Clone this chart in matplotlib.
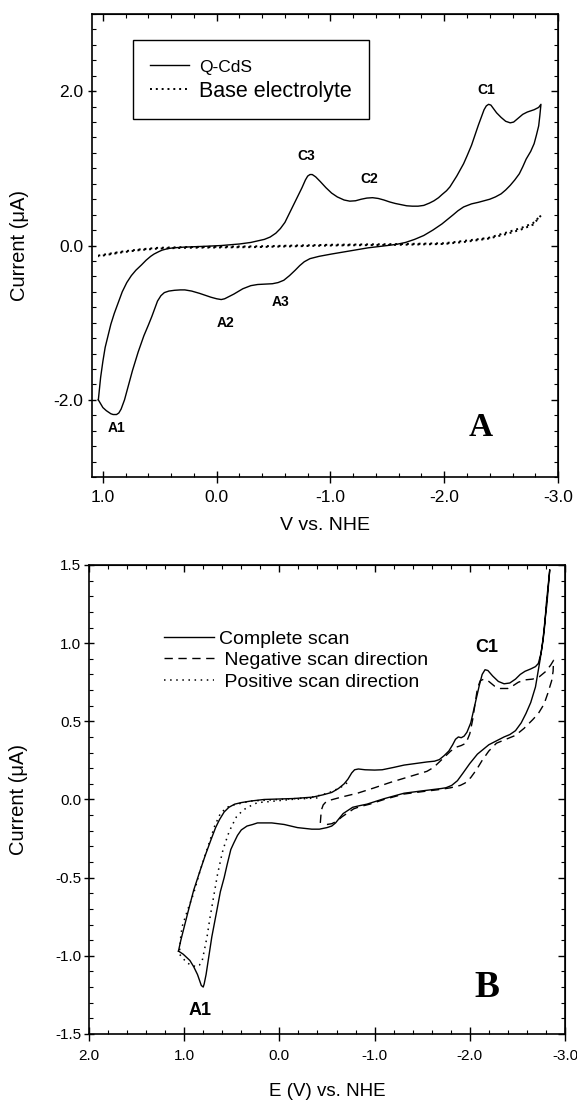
import matplotlib
matplotlib.use("Agg")
import matplotlib.pyplot as plt
from matplotlib.ticker import MultipleLocator, FormatStrFormatter

plt.rcParams['font.family'] = ['Liberation Sans', 'DejaVu Sans']

# --- panel A : Q-CdS cyclic voltammogram vs base electrolyte ---
# sweep towards negative potentials (C peaks)
qcds_fwd_v = [1.04, 1.03, 1.02, 1.00, 0.98, 0.955, 0.93, 0.90, 0.86, 0.83, 0.79, 0.75, 0.71,
              0.66, 0.62, 0.58, 0.55, 0.51, 0.48, 0.43, 0.38, 0.28, 0.10, -0.04, -0.20, -0.30,
              -0.36, -0.42, -0.47, -0.52, -0.56, -0.60, -0.65, -0.70, -0.75, -0.78, -0.80,
              -0.82, -0.84, -0.87, -0.91, -0.96, -1.01, -1.06, -1.12, -1.17, -1.22, -1.27,
              -1.32, -1.37, -1.42, -1.47, -1.52, -1.57, -1.62, -1.67, -1.72, -1.77, -1.82,
              -1.87, -1.91, -1.95, -1.98, -2.02, -2.05, -2.08, -2.11, -2.14, -2.17, -2.20,
              -2.24, -2.27, -2.30, -2.33, -2.35, -2.37, -2.39, -2.41, -2.43, -2.46, -2.50,
              -2.54, -2.58, -2.61, -2.65, -2.69, -2.73, -2.79, -2.83, -2.85]
qcds_fwd_i = [-2.00, -1.85, -1.71, -1.50, -1.32, -1.17, -1.02, -0.88, -0.72, -0.60, -0.48, -0.39, -0.32,
              -0.25, -0.19, -0.14, -0.11, -0.08, -0.06, -0.04, -0.03, -0.02, -0.01, 0.00, 0.02, 0.04,
              0.06, 0.08, 0.11, 0.16, 0.22, 0.30, 0.45, 0.60, 0.75, 0.85, 0.90,
              0.92, 0.92, 0.89, 0.83, 0.75, 0.68, 0.63, 0.59, 0.575, 0.58, 0.60,
              0.615, 0.62, 0.61, 0.59, 0.565, 0.545, 0.53, 0.515, 0.51, 0.51, 0.52,
              0.55, 0.58, 0.62, 0.66, 0.71, 0.76, 0.83, 0.90, 0.98, 1.06, 1.16,
              1.30, 1.43, 1.56, 1.68, 1.76, 1.81, 1.83, 1.82, 1.78, 1.72, 1.66,
              1.61, 1.59, 1.60, 1.65, 1.70, 1.73, 1.76, 1.79, 1.83]
# sweep back towards positive potentials (A peaks)
qcds_rev_v = [-2.85, -2.84, -2.83, -2.81, -2.79, -2.76, -2.72, -2.69, -2.66, -2.62, -2.58, -2.54,
              -2.50, -2.45, -2.40, -2.35, -2.30, -2.24, -2.17, -2.12, -2.08, -2.03, -1.98, -1.90,
              -1.82, -1.74, -1.66, -1.58, -1.50, -1.33, -1.17, -1.01, -0.90, -0.82, -0.77, -0.73,
              -0.69, -0.64, -0.59, -0.54, -0.49, -0.42, -0.36, -0.30, -0.23, -0.15, -0.07, -0.04,
              0.00, 0.05, 0.09, 0.15, 0.22, 0.28, 0.32, 0.37, 0.42, 0.46, 0.49, 0.52, 0.54, 0.57,
              0.60, 0.64, 0.69, 0.74, 0.78, 0.81, 0.84, 0.86, 0.88, 0.91, 0.93, 0.97, 1.00, 1.02, 1.04]
qcds_rev_i = [1.83, 1.68, 1.55, 1.43, 1.32, 1.22, 1.12, 1.02, 0.93, 0.85, 0.78, 0.72,
              0.67, 0.63, 0.60, 0.58, 0.56, 0.54, 0.50, 0.45, 0.40, 0.34, 0.28, 0.20,
              0.13, 0.08, 0.04, 0.015, 0.00, -0.03, -0.07, -0.11, -0.14, -0.17, -0.21, -0.26,
              -0.32, -0.39, -0.45, -0.48, -0.495, -0.50, -0.505, -0.52, -0.56, -0.63, -0.69, -0.70,
              -0.69, -0.67, -0.65, -0.62, -0.59, -0.575, -0.575, -0.58, -0.59, -0.61, -0.65, -0.72, -0.80, -0.92,
              -1.03, -1.17, -1.38, -1.62, -1.84, -2.00, -2.12, -2.17, -2.19, -2.19, -2.18, -2.14, -2.10, -2.05, -2.00]

base_fwd_v = [1.04, 0.84, 0.68, 0.52, 0.29, -0.36, -1.00, -1.64, -2.00, -2.20, -2.39, -2.55, -2.68, -2.78, -2.85]
base_fwd_i = [-0.13, -0.08, -0.05, -0.03, -0.02, -0.01, 0.01, 0.02, 0.03, 0.065, 0.10, 0.17, 0.23, 0.29, 0.39]
base_rev_v = [-2.85, -2.78, -2.68, -2.55, -2.39, -2.20, -2.00, -1.64, -1.00, -0.36, 0.29, 0.52, 0.68, 0.84, 1.04]
base_rev_i = [0.39, 0.27, 0.21, 0.15, 0.09, 0.05, 0.02, 0.01, 0.00, -0.02, -0.03, -0.04, -0.06, -0.09, -0.14]

peaks_a = ["C1", "C3", "C2", "A3", "A2", "A1"]
peaks_a_v = [-2.37, -0.79, -1.34, -0.56, -0.08, 0.88]
peaks_a_i = [2.01, 1.16, 0.86, -0.73, -1.00, -2.36]

# --- panel B : complete scan and partial scans ---
full_fwd_v = [1.06, 1.035, 1.01, 0.96, 0.90, 0.83, 0.78, 0.72, 0.67, 0.63, 0.58, 0.53, 0.47,
              0.40, 0.30, 0.16, -0.15, -0.35, -0.46, -0.55, -0.62, -0.68, -0.72, -0.76,
              -0.79, -0.83, -0.90, -1.00, -1.08, -1.20, -1.31, -1.43, -1.55, -1.63, -1.68,
              -1.73, -1.78, -1.82, -1.85, -1.88, -1.91, -1.94, -1.97, -2.01, -2.04, -2.07,
              -2.10, -2.13, -2.16, -2.19, -2.24, -2.30, -2.36, -2.42, -2.48, -2.53, -2.58,
              -2.64, -2.69, -2.72, -2.75, -2.77, -2.79, -2.80, -2.82, -2.84]
full_fwd_i = [-0.97, -0.90, -0.84, -0.72, -0.58, -0.45, -0.36, -0.26, -0.18, -0.13, -0.08, -0.05, -0.03,
              -0.02, -0.01, 0.00, 0.006, 0.015, 0.03, 0.045, 0.07, 0.10, 0.13, 0.17,
              0.19, 0.195, 0.19, 0.188, 0.19, 0.205, 0.22, 0.23, 0.24, 0.245, 0.255,
              0.28, 0.31, 0.35, 0.385, 0.40, 0.395, 0.405, 0.43, 0.49, 0.57, 0.65,
              0.73, 0.80, 0.83, 0.825, 0.79, 0.755, 0.74, 0.745, 0.77, 0.80, 0.82,
              0.835, 0.85, 0.87, 0.94, 1.02, 1.13, 1.23, 1.35, 1.47]
full_rev_v = [-2.84, -2.81, -2.79, -2.77, -2.74, -2.69, -2.64, -2.59, -2.54, -2.48, -2.42, -2.36,
              -2.28, -2.20, -2.14, -2.08, -2.00, -1.93, -1.87, -1.81, -1.75, -1.70, -1.50, -1.31,
              -1.10, -0.92, -0.84, -0.77, -0.72, -0.67, -0.63, -0.59, -0.55, -0.50, -0.42, -0.34,
              -0.19, -0.05, 0.08, 0.17, 0.23, 0.28, 0.34, 0.40, 0.44, 0.48, 0.51, 0.55, 0.58,
              0.62, 0.66, 0.71, 0.74, 0.77, 0.79, 0.80, 0.82, 0.86, 0.90, 0.94, 1.01, 1.06]
full_rev_i = [1.47, 1.25, 1.15, 1.03, 0.90, 0.72, 0.62, 0.55, 0.49, 0.44, 0.415, 0.40,
              0.375, 0.35, 0.32, 0.29, 0.23, 0.17, 0.12, 0.09, 0.075, 0.07, 0.055, 0.04,
              0.005, -0.03, -0.04, -0.05, -0.07, -0.09, -0.12, -0.15, -0.17, -0.18, -0.19, -0.19,
              -0.18, -0.16, -0.15, -0.15, -0.15, -0.16, -0.17, -0.195, -0.23, -0.28, -0.32, -0.42, -0.50,
              -0.59, -0.72, -0.88, -1.00, -1.12, -1.18, -1.20, -1.19, -1.12, -1.07, -1.03, -0.99, -0.97]

neg_v = [-0.43, -0.435, -0.44, -0.46, -0.49, -0.53, -0.65, -0.82, -1.00, -1.17, -1.36, -1.55,
         -1.62, -1.68, -1.74, -1.80, -1.86, -1.91, -1.96, -2.00, -2.03, -2.06, -2.08, -2.11,
         -2.15, -2.20, -2.26, -2.32, -2.40, -2.46, -2.51, -2.58, -2.66, -2.73, -2.80, -2.85,
         -2.88, -2.875, -2.86, -2.82, -2.78, -2.72, -2.66, -2.57, -2.48, -2.38, -2.28, -2.20,
         -2.13, -2.07, -2.01, -1.95, -1.90, -1.80, -1.70, -1.50, -1.31, -1.10, -0.95, -0.85,
         -0.78, -0.72, -0.66, -0.60, -0.55, -0.50, -0.45]
neg_i = [-0.15, -0.11, -0.07, -0.035, -0.015, -0.005, 0.015, 0.04, 0.075, 0.11, 0.145, 0.18,
         0.205, 0.24, 0.275, 0.31, 0.335, 0.345, 0.36, 0.42, 0.51, 0.63, 0.71, 0.76,
         0.77, 0.755, 0.725, 0.71, 0.71, 0.73, 0.75, 0.765, 0.77, 0.785, 0.82, 0.86,
         0.89, 0.82, 0.76, 0.68, 0.61, 0.55, 0.51, 0.455, 0.41, 0.385, 0.36, 0.31,
         0.25, 0.19, 0.14, 0.105, 0.09, 0.075, 0.065, 0.05, 0.035, 0.00, -0.03, -0.045,
         -0.06, -0.085, -0.11, -0.14, -0.155, -0.16, -0.16]

pos_v = [-0.40, -0.12, 0.13, 0.23, 0.30, 0.36, 0.40, 0.45, 0.50, 0.53, 0.57, 0.60, 0.65,
         0.69, 0.73, 0.76, 0.79, 0.81, 0.84, 0.87, 0.93, 0.98, 1.02, 1.05, 1.045, 1.035,
         1.02, 0.96, 0.90, 0.83, 0.76, 0.68, 0.62, 0.55, 0.48, 0.30, 0.00, -0.30, -0.45,
         -0.55, -0.65, -0.72]
pos_i = [0.01, 0.00, -0.015, -0.02, -0.04, -0.06, -0.08, -0.11, -0.17, -0.21, -0.28, -0.34, -0.48,
         -0.62, -0.76, -0.88, -0.97, -1.03, -1.06, -1.07, -1.06, -1.04, -1.01, -0.99, -0.94, -0.87,
         -0.81, -0.70, -0.60, -0.45, -0.32, -0.17, -0.09, -0.05, -0.035, -0.01, 0.00, 0.01, 0.03,
         0.05, 0.08, 0.11]

peaks_b = ["C1", "A1"]
peaks_b_v = [-2.18, 0.83]
peaks_b_i = [0.97, -1.35]

fig = plt.figure(figsize=(5.77, 11.05), dpi=100)
axA = fig.add_axes([0.1586, 0.5683, 0.8085, 0.419])
axB = fig.add_axes([0.1542, 0.0643, 0.825, 0.4244])


def style_axes(ax, xmaj, xmin, ymaj, ymin, xlen, ylen, xpad, ypad, fs):
    ax.xaxis.set_major_locator(MultipleLocator(xmaj))
    ax.xaxis.set_minor_locator(MultipleLocator(xmin))
    ax.yaxis.set_major_locator(MultipleLocator(ymaj))
    ax.yaxis.set_minor_locator(MultipleLocator(ymin))
    ax.xaxis.set_major_formatter(FormatStrFormatter('%.1f'))
    ax.yaxis.set_major_formatter(FormatStrFormatter('%.1f'))
    ax.tick_params(axis='x', which='major', direction='inout', length=xlen, width=1.0,
                   pad=xpad, labelsize=fs)
    ax.tick_params(axis='y', which='major', direction='inout', length=ylen, width=1.0,
                   pad=ypad, labelsize=fs)
    ax.tick_params(which='minor', direction='in', length=3, width=0.8)
    for sp in ax.spines.values():
        sp.set_linewidth(1.2)
    # ticks on top and right, pointing in
    top = ax.secondary_xaxis('top')
    top.xaxis.set_major_locator(MultipleLocator(xmaj))
    top.xaxis.set_minor_locator(MultipleLocator(xmin))
    top.tick_params(which='major', direction='in', length=5, width=1.0, labeltop=False)
    top.tick_params(which='minor', direction='in', length=3, width=0.8)
    right = ax.secondary_yaxis('right')
    right.yaxis.set_major_locator(MultipleLocator(ymaj))
    right.yaxis.set_minor_locator(MultipleLocator(ymin))
    right.tick_params(which='major', direction='in', length=5, width=1.0, labelright=False)
    right.tick_params(which='minor', direction='in', length=3, width=0.8)


# panel A
axA.plot(qcds_fwd_v + qcds_rev_v[1:], qcds_fwd_i + qcds_rev_i[1:], color='black', lw=1.0,
         label='Q-CdS')
axA.plot(base_fwd_v + base_rev_v[1:], base_fwd_i + base_rev_i[1:], color='black', lw=1.4,
         ls=(0, (1, 2)), label='Base electrolyte')
axA.set_xlim(1.1, -3.0)
axA.set_ylim(-3.0, 3.0)
style_axes(axA, 1.0, 0.2, 2.0, 0.2, 8.5, 6, 5, 3, 12.5)
for name, v, i in zip(peaks_a, peaks_a_v, peaks_a_i):
    axA.text(v, i, name, fontsize=10, fontweight='bold', ha='center', va='center')
axA.text(-2.32, -2.36, 'A', family='Liberation Serif', fontsize=24, fontweight='bold',
         ha='center', va='center')
axA.set_xlabel('V vs. NHE', fontsize=14)
axA.set_ylabel('Current (\u03bcA)', fontsize=14.5)
axA.xaxis.set_label_coords(0.5, -0.086)
axA.yaxis.set_label_coords(-0.135, 0.5)
legA = axA.legend(loc='upper left', bbox_to_anchor=(0.089, 0.944), fontsize=15.5,
                  frameon=True, fancybox=False, framealpha=1, edgecolor='black',
                  borderpad=0.8, handlelength=1.8, handletextpad=0.45, labelspacing=0.25,
                  borderaxespad=0)
legA.get_frame().set_linewidth(1.0)
legA.get_texts()[0].set_fontsize(12.5)

# panel B
axB.plot(full_fwd_v + full_rev_v[1:], full_fwd_i + full_rev_i[1:], color='black', lw=1.0,
         label='Complete scan')
axB.plot(neg_v, neg_i, color='black', lw=1.0, ls=(0, (6, 4)), label=' Negative scan direction')
axB.plot(pos_v, pos_i, color='black', lw=1.1, ls=(0, (1, 3)), label=' Positive scan direction')
axB.set_xlim(2.0, -3.0)
axB.set_ylim(-1.5, 1.5)
style_axes(axB, 1.0, 0.2, 0.5, 0.1, 10, 7, 6, 2, 11)
for name, v, i in zip(peaks_b, peaks_b_v, peaks_b_i):
    axB.text(v, i, name, fontsize=13, fontweight='bold', ha='center', va='center')
axB.text(-2.18, -1.2, 'B', family='Liberation Serif', fontsize=27, fontweight='bold',
         ha='center', va='center')
axB.set_xlabel('E (V) vs. NHE', fontsize=13.5)
axB.set_ylabel('Current (\u03bcA)', fontsize=14.5)
axB.xaxis.set_label_coords(0.5, -0.105)
axB.yaxis.set_label_coords(-0.128, 0.5)
axB.legend(loc='upper left', bbox_to_anchor=(0.157, 0.861), fontsize=14, frameon=False,
           handlelength=2.6, handletextpad=0.25, labelspacing=0.2, borderpad=0, borderaxespad=0)

fig.savefig('out.png', dpi=100)
